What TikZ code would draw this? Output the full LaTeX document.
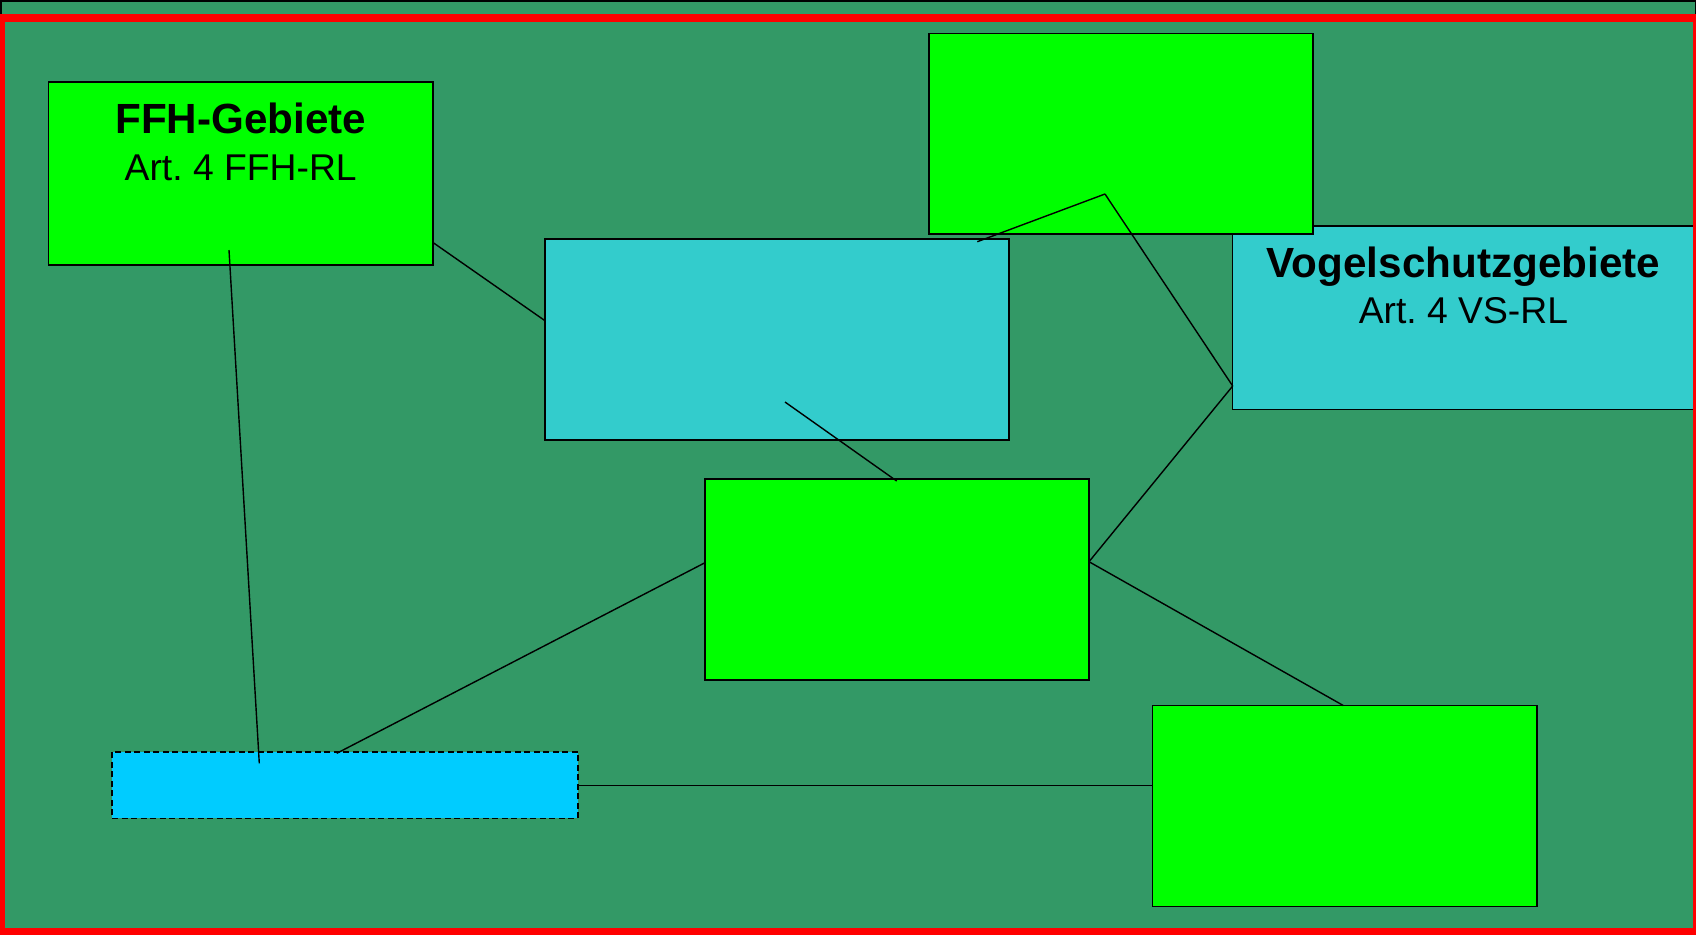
\documentclass[tikz,border=0pt]{standalone}
\usepackage{fontspec}
\setmainfont{Liberation Sans}
\usepackage{tikz}
\definecolor{hintergrund}{RGB}{51,153,102}
\definecolor{gruen}{RGB}{0,255,0}
\definecolor{tuerkis}{RGB}{51,204,204}
\definecolor{hellblau}{RGB}{0,204,255}

\begin{document}
\begin{tikzpicture}[x=0.01cm,y=-0.01cm]
  \tikzset{box/.style = {shape=rectangle,draw,line width=0.017cm,inner sep=0pt,minimum width=3.84cm,minimum height=2.007cm}}
  \tikzset{titled/.style = {box,align=center,font=\fontsize{10.6}{13.3}\selectfont,text height=27.9pt,text depth=24.1pt}}
  \tikzset{link/.style = {line width=0.014cm}}

  \useasboundingbox (0,0) rectangle (1696,935);
  \fill[hintergrund] (0,0) rectangle (1696,935);
  \draw[line width=0.015cm] (0.75,0.75) rectangle (1695.25,934.25);

	\node[titled,fill=gruen,minimum height=1.828cm] (ffh) at (240.7,173.4) {\textbf{\fontsize{12}{13.3}\selectfont FFH-Gebiete}\\Art.\ 4 FFH-RL};
	\node[box,fill=tuerkis,minimum width=4.642cm] (tuerkis) at (777.1,339.6) {};
	\node[titled,fill=tuerkis,minimum width=4.613cm,minimum height=1.836cm,text depth=24.3pt] (vogel) at (1463.4,317.5) {\textbf{\fontsize{12}{13.3}\selectfont Vogelschutzgebiete}\\Art.\ 4 VS-RL};
		\node[box,fill=gruen] (gruenoben) at (1120.9,133.9) {};
	\node[box,fill=gruen] (gruenmitte) at (897,579.6) {};
	\node[box,fill=gruen] (gruenunten) at (1344.7,806) {};
	\node[box,fill=hellblau,dash pattern=on 0.06cm off 0.035cm,minimum width=4.654cm,minimum height=0.663cm] (leiste) at (345,785.2) {};

	\coordinate (ffhrand) at (432.7,242.3);
	\coordinate (tuerkisrand) at (545,320.7);
	\coordinate (ffhinnen) at (229,250);
	\coordinate (leisteinnen) at (259.3,763.3);
	\coordinate (tuerkisinnen) at (785,402);
	\coordinate (mitteoben) at (896.7,481);
	\coordinate (obenende) at (977.3,241.7);
	\coordinate (knick) at (1105,194);
	\coordinate (vogelrand) at (1232.7,386);
	\coordinate (mittelinks) at (705,562.7);
	\coordinate (mitterechts) at (1089,561.7);
	\coordinate (leisteoben) at (336.7,753.3);
	\coordinate (untenoben) at (1343.3,705.5);

       \foreach \from/\to in {ffhrand/tuerkisrand, ffhinnen/leisteinnen, tuerkisinnen/mitteoben, obenende/knick, knick/vogelrand, vogelrand/mitterechts, mittelinks/leisteoben, mitterechts/untenoben}
    \path[link] (\from) edge (\to);
    \draw[link] (leiste.east) -- (leiste.east -| gruenunten.west);

  \draw[red,line width=0.077cm] (1.2,17.9) rectangle (1696.8,931.5);
\end{tikzpicture}
\end{document}
